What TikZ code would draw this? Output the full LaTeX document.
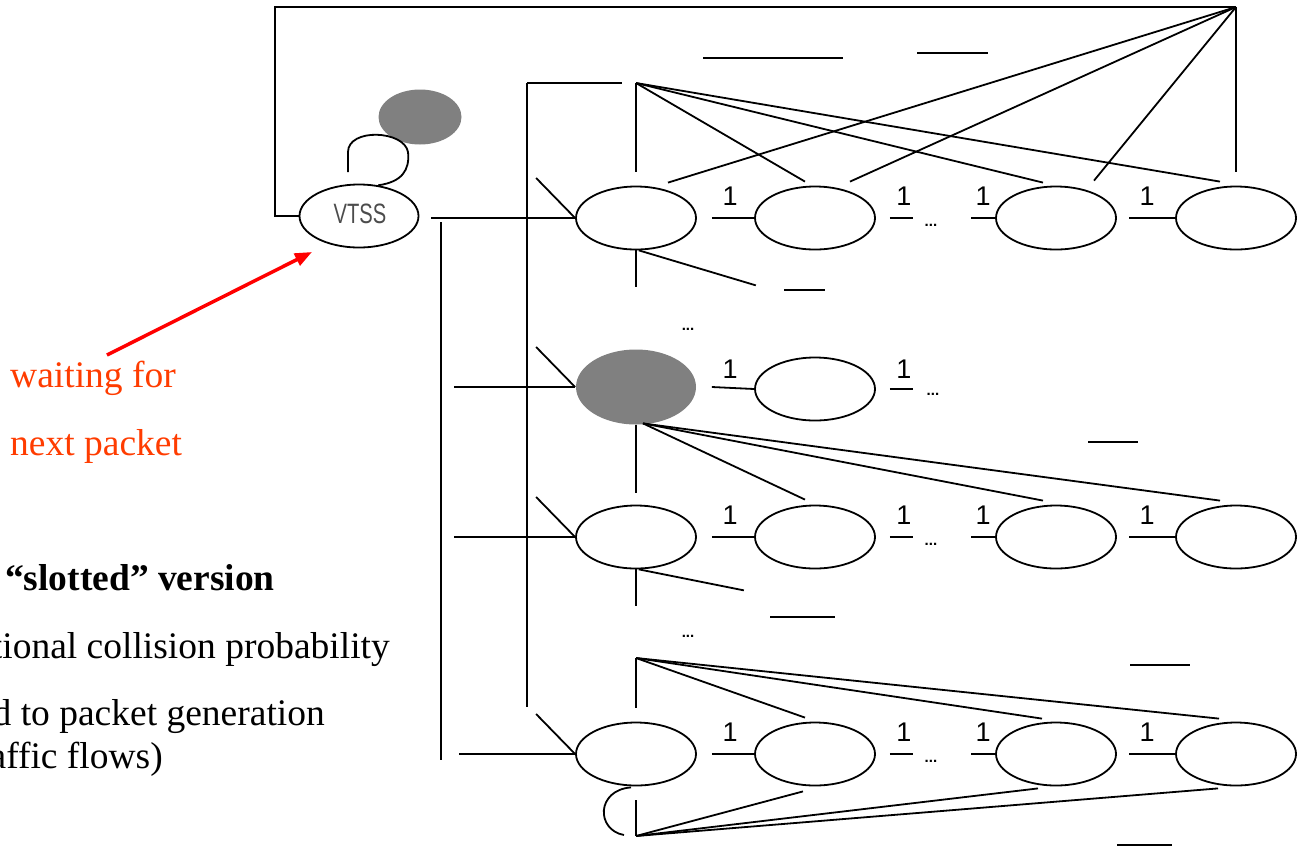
\documentclass[tikz,border=0pt]{standalone}
\usepackage{fontspec}
\setmainfont{Liberation Serif}
\newfontfamily\arialf{Liberation Sans}
\usetikzlibrary{shapes.geometric,arrows.meta,calc}
\definecolor{waitred}{RGB}{255,60,0}
\definecolor{arrred}{RGB}{255,0,0}
\definecolor{busygray}{RGB}{128,128,128}
\tikzset{
  st/.style={ellipse,draw,line width=1.8pt,minimum width=120pt,minimum height=63pt,inner sep=0pt},
  ln/.style={line width=1.8pt},
  one/.style={font=\arialf\fontsize{27}{27}\selectfont,inner sep=0pt},
  dots/.style={font=\arialf\bfseries\fontsize{15}{15}\selectfont,inner sep=0pt},
  note/.style={font=\fontsize{37.5}{44}\selectfont,inner sep=0pt},
  boldnote/.style={font=\bfseries\fontsize{37.5}{44}\selectfont,inner sep=0pt},
}
\begin{document}
\begin{tikzpicture}[x=1pt,y=-1pt]
\useasboundingbox (0,0) rectangle (1313,847);

% ---- scheduler state and its busy marker
\node[st,minimum width=119pt] (vtss) at (359,216) {};
\node[font=\arialf\fontsize{28}{28}\selectfont,text=black!70,xscale=0.72,inner sep=0pt] (vtsstext) at (360,214) {VTSS};
\node[ellipse,fill=busygray,minimum width=83pt,minimum height=55pt,inner sep=0pt] (busy) at (420,117) {};

% ---- chains of states
\foreach \rw/\yy in {1/218,3/537,4/754}{
  \foreach \cl/\xx in {1/636,2/815,3/1056,4/1236}{
    \node[st] (r\rw c\cl) at (\xx,\yy) {};
  }
}
\node[st,draw=none,fill=busygray,minimum height=75pt] (r2c1) at (636,387) {};
\node[st] (r2c2) at (815,389) {};

% ---- junction points
\coordinate (apex) at (1236,7);
\coordinate (tj) at (636,83);
\coordinate (bus1) at (441,222);
\coordinate (bus2) at (527,83);
\coordinate (j4) at (636,658);
\coordinate (j5) at (636,836);
\coordinate (loopA) at (348,172);

% ---- outer frame from the scheduler to the top apex
\draw[ln] (vtss.west) -- (275,216) -- (275,7) -- (apex);

% ---- self loop of the scheduler
\draw[ln] (loopA) -- (348,152) .. controls (348,128) and (404,130) .. (408,152)
  .. controls (410,170) and (402,182) .. (vtss.58);

% ---- buses on the left
\draw[ln] (bus1) -- ++(0,538);
\draw[ln] (bus2) -- ++(95,0);
\draw[ln] (bus2) -- ++(0,624);

% ---- full chains (rows 1, 3, 4)
\foreach \rw/\len in {1/144,3/121,4/116}{
  \draw[ln] (r\rw c1.west) -- ++(-\len,0);
  \draw[ln] (r\rw c1.west) -- ++(-39,-40);
  \draw[ln] (r\rw c1.east) ++(15,0) -- (r\rw c2.west);
  \node[one] (o1r\rw) at ($(r\rw c2.west)+(-24,-22)$) {1};
  \draw[ln] ($(r\rw c2.east)+(14,0)$) -- ++(23,0);
  \node[one] (o2r\rw) at ($(r\rw c2.east)+(28,-22)$) {1};
  \node[dots] (d\rw) at ($(r\rw c2.east)+(55,7)$) {...};
  \draw[ln] (r\rw c3.west) -- ++(-24,0);
  \node[one] (o3r\rw) at ($(r\rw c3.west)+(-12,-22)$) {1};
  \draw[ln] (r\rw c4.west) -- ++(-46,0);
  \node[one] (o4r\rw) at ($(r\rw c4.west)+(-28,-22)$) {1};
}

% ---- short chain (row 2)
\draw[ln] (r2c1.west) -- ++(-121,0);
\draw[ln] (r2c1.west) -- ++(-39,-40);
\draw[ln] (r2c1.east) ++(15,0) -- (r2c2.west);
\node[one] (o1r2) at ($(r2c2.west)+(-24,-20)$) {1};
\draw[ln] ($(r2c2.east)+(14,0)$) -- ++(23,0);
\node[one] (o2r2) at ($(r2c2.east)+(28,-20)$) {1};
\node[dots] (d2) at ($(r2c2.east)+(57,5)$) {...};

% ---- fan from the top apex
\draw[ln] (apex) -- ($(r1c1.north)+(32,-3)$);
\draw[ln] (apex) -- ($(r1c2.north)+(35,-4)$);
\draw[ln] (apex) -- ($(r1c3.north)+(38,-5)$);
\draw[ln] (apex) -- ($(r1c4.north)+(0,-14)$);

% ---- fan above row 1
\draw[ln] (tj) -- ($(r1c1.north)+(0,-14)$);
\draw[ln] (tj) -- ($(r1c2.north)+(-10,-4)$);
\draw[ln] (tj) -- ($(r1c3.north)+(-13,-3)$);
\draw[ln] (tj) -- ($(r1c4.north)+(-16,-4)$);

% ---- below row 1
\draw[ln] (r1c1.south) -- ++(0,37);
\draw[ln] (r1c1.-85) -- ++(117,35);
\draw[ln] (784,290) -- (825,290);
\node[dots] (dv1) at (688,329) {...};

% ---- fan from the busy state down to row 3
\draw[ln] (r2c1.south) -- ++(0,68);
\draw[ln] ($(r2c1.south)+(7,-2)$) -- ($(r3c2.north)+(-10,-5)$);
\draw[ln] ($(r2c1.south)+(7,-2)$) -- ($(r3c3.north)+(-13,-4)$);
\draw[ln] ($(r2c1.south)+(7,-2)$) -- ($(r3c4.north)+(-16,-4)$);
\draw[ln] (1088,442) -- (1138,442);

% ---- below row 3
\draw[ln] (r3c1.south) -- ++(0,37);
\draw[ln] (r3c1.-85) -- ++(105,21);
\draw[ln] (770,617) -- (835,617);
\node[dots] (dv3) at (688,636) {...};
\draw[ln] (1130,665) -- (1190,665);

% ---- fans around row 4
\draw[ln] (j4) -- ++(0,50);
\draw[ln] (j4) -- ($(r4c2.north)+(-10,-4)$);
\draw[ln] (j4) -- ($(r4c3.north)+(-14,-3)$);
\draw[ln] (j4) -- ($(r4c4.north)+(-17,-3)$);
\draw[ln] (j5) -- ++(0,-36);
\draw[ln] (j5) -- ($(r4c2.south)+(-12,5)$);
\draw[ln] (j5) -- ($(r4c3.south)+(-18,2)$);
\draw[ln] (j5) -- ($(r4c4.south)+(-18,2)$);
\draw[ln] ($(r4c1.south)+(-5,1)$) .. controls (596,790) and (596,830) .. ($(j5)+(-12,-1)$);
\draw[ln] (1117,845) -- (1172,845);

% ---- top bars
\draw[ln] (703,58) -- (843,58);
\draw[ln] (917,53) -- (988,53);

% ---- annotation
\coordinate (wtail) at (107,355);
\coordinate (whead) at (312,252);
\draw[arrred,line width=3.5pt,-{Triangle[length=17pt,width=13pt]}] (wtail) -- (whead);
\node[note,text=waitred,anchor=base west] (wait1) at (10,387) {waiting for};
\node[note,text=waitred,anchor=base west] (wait2) at (10,455) {next packet};
\node[boldnote,anchor=base east] (slot) at (275,590) {“slotted” version};
\node[note,anchor=base east] (txa) at (390,658) {tional collision probability};
\node[note,anchor=base east] (txb) at (325,725) {d to packet generation};
\node[note,anchor=base east] (txc) at (163,768) {affic flows)};
\end{tikzpicture}
\end{document}
